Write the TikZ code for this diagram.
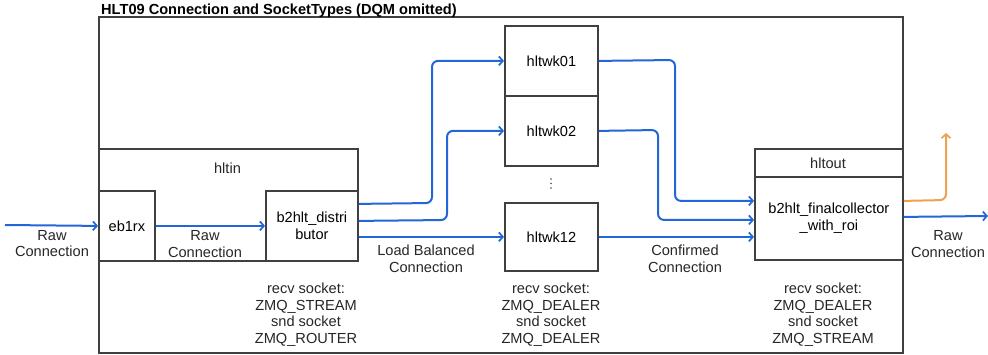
\documentclass[tikz,border=0pt]{standalone}
\usepackage{fontspec}
\setmainfont{Liberation Sans}
\usetikzlibrary{arrows.meta,calc}
\definecolor{boxline}{HTML}{404040}
\definecolor{flowblue}{HTML}{2266D8}
\definecolor{floworange}{HTML}{F0A050}
\begin{document}
\begin{tikzpicture}[x=1pt,y=-1pt,
  font=\fontsize{14.6}{16.6}\selectfont,
  box/.style={draw=boxline,line width=1.8pt,rectangle,inner sep=0pt,anchor=north west,align=center},
  txt/.style={align=center,inner sep=0pt,text=black!85},
  flow/.style={draw=flowblue,line width=2pt,rounded corners=6pt,-{Straight Barb[length=4pt,width=9pt,line width=1.7pt]}},
  flowor/.style={draw=floworange,line width=2pt,rounded corners=6pt,-{Straight Barb[length=4pt,width=9pt,line width=1.7pt]}}]
\useasboundingbox (0,0) rectangle (988,354);
% containers
\node[box,minimum width=804pt,minimum height=336pt] (outer) at (98,16) {};
\node[anchor=base west,inner sep=0pt,font=\fontsize{14.6}{16.6}\selectfont\bfseries] (title) at (101,14) {HLT09 Connection and SocketTypes (DQM omitted)};
\node[box,minimum width=259pt,minimum height=112pt] (hltin) at (98,148) {};
\node[txt] (hltinlbl) at (227.5,168) {hltin};
\node[box,minimum width=56pt,minimum height=70pt] (eb1rx) at (98,190) {eb1rx};
\node[box,minimum width=92pt,minimum height=70pt] (dist) at (265,190) {b2hlt\_distri\\butor};
% workers
\node[box,minimum width=93pt,minimum height=70pt] (wk01) at (504,25) {hltwk01};
\node[box,minimum width=93pt,minimum height=70pt] (wk02) at (504,95) {hltwk02};
\node[box,minimum width=93pt,minimum height=68pt] (wk12) at (504,202) {hltwk12};
\node[inner sep=0pt,minimum width=4pt,minimum height=12pt] (dots) at (551,183.5) {};
\foreach \dy in {-4.5,0,4.5} \fill[black!70] ([yshift=\dy pt]dots.center) circle (0.9pt);
% output
\node[box,minimum width=148pt,minimum height=111pt] (hltout) at (754,148) {};
\node[txt] (hltoutlbl) at (828,163) {hltout};
\node[box,minimum width=148pt,minimum height=83pt] (coll) at (754,176) {b2hlt\_finalcollector\\\_with\_roi};
% free ends
\coordinate (inL) at (5,225);
\coordinate (outR) at (988,216);
\coordinate (orTurn) at (946,200);
\coordinate (orEnd) at (946,133);
% connectors
\draw[flow] (inL) -- (eb1rx.west);
\draw[flow] (eb1rx.east) -- (dist.west);
\draw[flow] ([yshift=22pt]dist.east) -- (432,203) |- (wk01.west);
\draw[flow] ([yshift=5pt]dist.east) -- (447,220) |- (wk02.west);
\draw[flow] ([yshift=-11pt]dist.east) -- (wk12.west);
\draw[flow] (wk01.east) -- (675,60) |- ([yshift=17.5pt]coll.west);
\draw[flow] (wk02.east) -- (658,130) |- ([yshift=-1.5pt]coll.west);
\draw[flow] (wk12.east) -- (coll.west |- wk12.east);
\draw[flow] ([yshift=1.5pt]coll.east) -- (outR);
\draw[flowor] ([yshift=17.5pt]coll.east) -- (orTurn) -- (orEnd);
% labels
\node[txt] (lin) at (52,243.5) {Raw\\Connection};
\node[txt] (lraw) at (205,244) {Raw\\Connection};
\node[txt] (llb) at (426,259) {Load Balanced\\Connection};
\node[txt] (lconf) at (685,259) {Confirmed\\Connection};
\node[txt] (lout) at (948,244) {Raw\\Connection};
\node[txt] (sdist) at (306,314.5) {recv socket:\\ZMQ\_STREAM\\snd socket\\ZMQ\_ROUTER};
\node[txt] (swk) at (551,314.5) {recv socket:\\ZMQ\_DEALER\\snd socket\\ZMQ\_DEALER};
\node[txt] (sout) at (823,314.5) {recv socket:\\ZMQ\_DEALER\\snd socket\\ZMQ\_STREAM};
\end{tikzpicture}
\end{document}
